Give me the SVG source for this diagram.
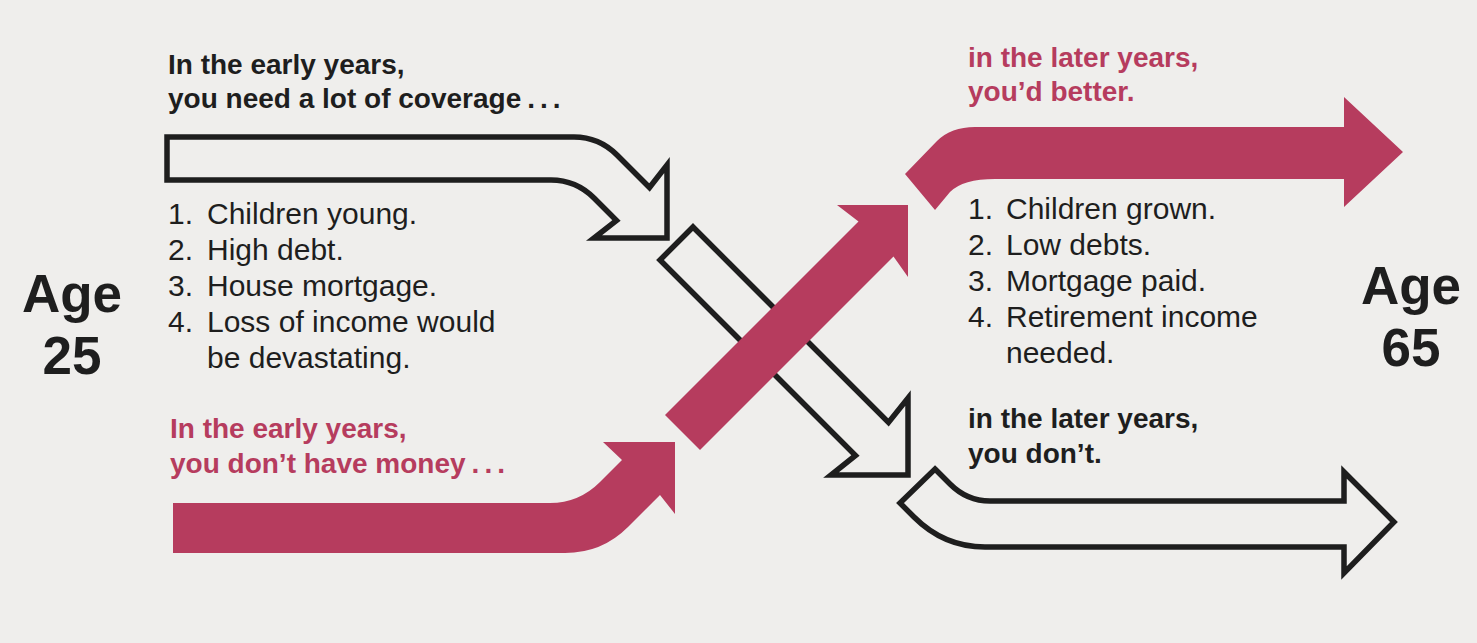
<svg xmlns="http://www.w3.org/2000/svg" width="1477" height="643" viewBox="0 0 1477 643">
<style>
.bg{fill:#efeeec}
.out{fill:none;stroke:#1e1e1e;stroke-width:5.5;stroke-linejoin:miter;stroke-miterlimit:10}
.red{fill:#b63c5e}
.h{font-family:"Liberation Sans",Arial,sans-serif;font-weight:bold;font-size:28px}
.hk{fill:#1e1e1e}
.hr{fill:#b63c5e}
.dots{letter-spacing:5px}
.li{font-family:"Liberation Sans",Arial,sans-serif;font-size:30px;fill:#1e1e1e}
.age{font-family:"Liberation Sans",Arial,sans-serif;font-weight:bold;font-size:53px;fill:#1e1e1e;text-anchor:middle}
</style>
<rect class="bg" x="0" y="0" width="1477" height="643"/>
<g id="connectors">
  <path id="arrow-early-coverage" class="out" d="M167,137 H574 Q599,137 617,155 L649.5,187.5 L667,165 V238 H594 L616.5,220.5 L594,198 Q576,180 551,180 H167 Z"/>
  <path id="arrow-coverage-diagonal" class="out" d="M693,227 L888.5,422.5 L908,398 V475 H831 L855.5,455.5 L660,260 Z"/>
  <path id="arrow-money-diagonal" class="red" d="M665,415 L858.5,221.5 L837,205 H908 V277 L893.5,256.5 L700,450 Z"/>
  <path id="arrow-early-money" class="red" d="M173,503 H550 Q579,503 600,482 L622,460 L603,442 H675 V514 L660,495 L628,527 Q602,553 565,553 H173 Z"/>
  <path id="arrow-later-better" class="red" d="M905,174 L937,141 Q951,127 975,127 H1344 V97 L1403,152 L1344,207 V179 H995 Q963,179 950,192 L935,210 Z"/>
  <path id="arrow-later-dont" class="out" d="M935,469 L950,484 Q967,501 990,501 H1344 V472 L1394,522 L1344,573 V547 H985 Q944,547 914,517 L900,503 Z"/>
</g>
<g id="age-25">
  <text class="age" x="72" y="312">Age</text>
  <text class="age" x="72" y="374">25</text>
</g>
<g id="age-65">
  <text class="age" x="1411" y="304">Age</text>
  <text class="age" x="1411" y="366">65</text>
</g>
<g id="early-coverage">
  <text class="h hk" x="168" y="74">In the early years,</text>
  <text class="h hk" x="168" y="108">you need a lot of coverage<tspan class="dots" dx="6">...</tspan></text>
</g>
<g id="early-reasons">
  <text class="li" x="168" y="224">1.</text><text class="li" x="207" y="224">Children young.</text>
  <text class="li" x="168" y="260">2.</text><text class="li" x="207" y="260">High debt.</text>
  <text class="li" x="168" y="296">3.</text><text class="li" x="207" y="296">House mortgage.</text>
  <text class="li" x="168" y="332">4.</text><text class="li" x="207" y="332">Loss of income would</text>
  <text class="li" x="207" y="368">be devastating.</text>
</g>
<g id="early-money">
  <text class="h hr" x="170" y="438">In the early years,</text>
  <text class="h hr" x="170" y="473">you don’t have money<tspan class="dots" dx="6">...</tspan></text>
</g>
<g id="later-better">
  <text class="h hr" x="968" y="67">in the later years,</text>
  <text class="h hr" x="968" y="101">you’d better.</text>
</g>
<g id="later-reasons">
  <text class="li" x="968" y="219">1.</text><text class="li" x="1006" y="219">Children grown.</text>
  <text class="li" x="968" y="255">2.</text><text class="li" x="1006" y="255">Low debts.</text>
  <text class="li" x="968" y="291">3.</text><text class="li" x="1006" y="291">Mortgage paid.</text>
  <text class="li" x="968" y="327">4.</text><text class="li" x="1006" y="327">Retirement income</text>
  <text class="li" x="1006" y="363">needed.</text>
</g>
<g id="later-dont">
  <text class="h hk" x="968" y="428">in the later years,</text>
  <text class="h hk" x="968" y="463">you don’t.</text>
</g>
</svg>
